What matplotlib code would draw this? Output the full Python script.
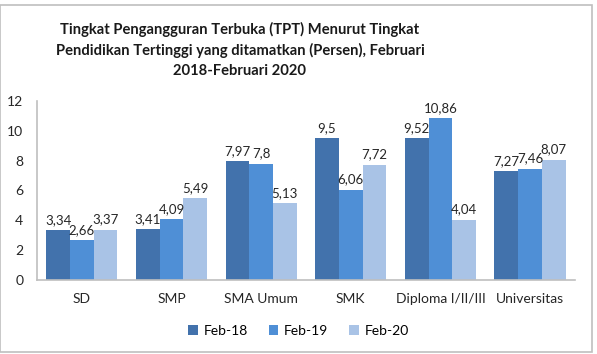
import numpy as np
import matplotlib
matplotlib.use("Agg")
import matplotlib.pyplot as plt
from matplotlib.patches import Rectangle

plt.rcParams['font.family'] = ['Lato', 'DejaVu Sans']

categories = ['SD', 'SMP', 'SMA Umum', 'SMK', 'Diploma I/II/III', 'Universitas']
feb18 = [3.34, 3.41, 7.97, 9.5, 9.52, 7.27]
feb19 = [2.66, 4.09, 7.8, 6.06, 10.86, 7.46]
feb20 = [3.37, 5.49, 5.13, 7.72, 4.04, 8.07]
series_names = ['Feb-18', 'Feb-19', 'Feb-20']
colors = ['#4272AC', '#4F8FD6', '#A9C3E6']

fig = plt.figure(figsize=(5.97, 3.54), dpi=100)
ax = fig.add_axes([0.062, 0.209, 0.901, 0.506])

x = np.arange(len(categories))
w = 0.265
for i, (vals, name, c) in enumerate(zip([feb18, feb19, feb20], series_names, colors)):
    pos = x + (i - 1) * w
    ax.bar(pos, vals, width=w, color=c, label=name)
    for p, v in zip(pos, vals):
        ax.annotate(f"{v:g}".replace('.', ','), (p, v), xytext=(0, 3),
                    textcoords='offset points', ha='center', va='bottom',
                    fontsize=9.5, color='#262626')

ax.set_xlim(-0.5, len(categories) - 0.5)
ax.set_ylim(0, 12)
ax.set_yticks(range(0, 13, 2))
ax.set_xticks(x)
ax.set_xticklabels(categories)
ax.tick_params(axis='both', length=0, labelsize=10, colors='#262626')
ax.tick_params(axis='y', pad=10)
ax.tick_params(axis='x', pad=9)
for s in ['top', 'right']:
    ax.spines[s].set_visible(False)
for s in ['left', 'bottom']:
    ax.spines[s].set_color('#BFBFBF')
    ax.spines[s].set_linewidth(1.2)

fig.text(0.402, 0.859, 'Tingkat Pengangguran Terbuka (TPT) Menurut Tingkat\n'
         'Pendidikan Tertinggi yang ditamatkan (Persen), Februari\n'
         '2018-Februari 2020', ha='center', va='center', fontsize=10.6,
         fontweight='bold', linespacing=1.55, color='#1a1a1a')

fig.legend(loc='center', bbox_to_anchor=(0.5, 0.065), ncol=3, frameon=False,
           fontsize=10, handlelength=0.7, handleheight=0.7, columnspacing=1.5,
           handletextpad=0.4)

fig.patches.append(Rectangle((0.0, 0.006), 0.991, 0.98, transform=fig.transFigure,
                             fill=False, edgecolor='#BFBFBF', linewidth=1.2))

fig.savefig('out.png', dpi=100)
